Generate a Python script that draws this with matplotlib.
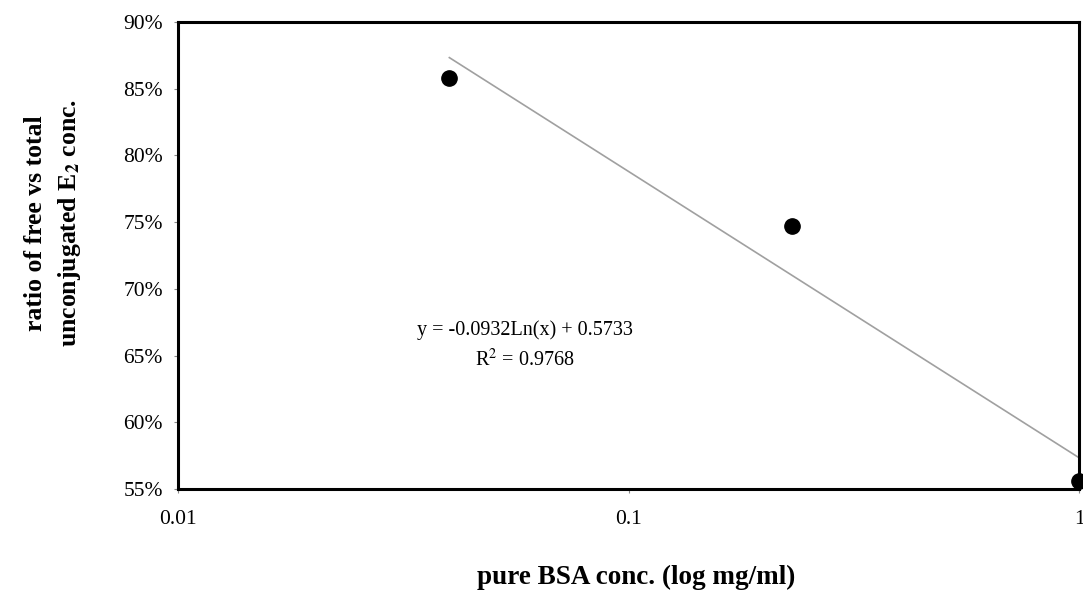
import numpy as np
import matplotlib.pyplot as plt
from matplotlib.ticker import FuncFormatter, FixedLocator, NullLocator

plt.rcParams['font.family'] = ['Liberation Serif', 'DejaVu Serif']
plt.rcParams['mathtext.fontset'] = 'stix'

# --- Dữ liệu ---
bsa_conc = [0.04, 0.23, 1.0]           # mg/ml
free_ratio = [0.858, 0.747, 0.556]     # tỉ lệ E2 tự do
fit_slope = -0.0932
fit_icept = 0.5733
fit_range = [0.04, 1.0]
x_ticks = [0.01, 0.1, 1]
x_tick_labels = ['0.01', '0.1', '1']
y_ticks = [0.55, 0.60, 0.65, 0.70, 0.75, 0.80, 0.85, 0.90]

fig = plt.figure(figsize=(10.83, 6.02), dpi=100)
ax = fig.add_axes([0.1644, 0.1877, 0.8322, 0.7758])

# đường xu hướng logarit
xf = np.logspace(np.log10(fit_range[0]), np.log10(fit_range[1]), 100)
ax.plot(xf, fit_slope * np.log(xf) + fit_icept, color='#a0a0a0', lw=1.2, zorder=2)

ax.plot(bsa_conc, free_ratio, 'o', color='black', ms=11, zorder=3, clip_on=False)

ax.set_xscale('log')
ax.set_xlim(0.01, 1)
ax.set_ylim(0.55, 0.90)
ax.xaxis.set_major_locator(FixedLocator(x_ticks))
ax.xaxis.set_minor_locator(NullLocator())
ax.set_xticklabels(x_tick_labels)
ax.set_yticks(y_ticks)
ax.yaxis.set_major_formatter(FuncFormatter(lambda v, p: f'{v*100:.0f}%'))
ax.tick_params(axis='both', labelsize=15.5, length=3, width=0.8, color='#888888', pad=8)
ax.tick_params(axis='x', pad=12)

for s in ax.spines.values():
    s.set_linewidth(2.2)

ax.text(0.385, 0.34, 'y = -0.0932Ln(x) + 0.5733', transform=ax.transAxes,
        ha='center', va='center', fontsize=14.5)
ax.text(0.385, 0.276, 'R$^2$ = 0.9768', transform=ax.transAxes,
        ha='center', va='center', fontsize=14.5)

fig.text(0.587, 0.04, 'pure BSA conc. (log mg/ml)', ha='center', va='center',
         fontsize=19.5, fontweight='bold')
fig.text(0.049, 0.63, 'ratio of free vs total\nunconjugated E$_\\mathbf{2}$ conc.',
         ha='center', va='center', rotation=90, fontsize=18.5, fontweight='bold',
         linespacing=1.45)

fig.savefig('out.png', dpi=100)
